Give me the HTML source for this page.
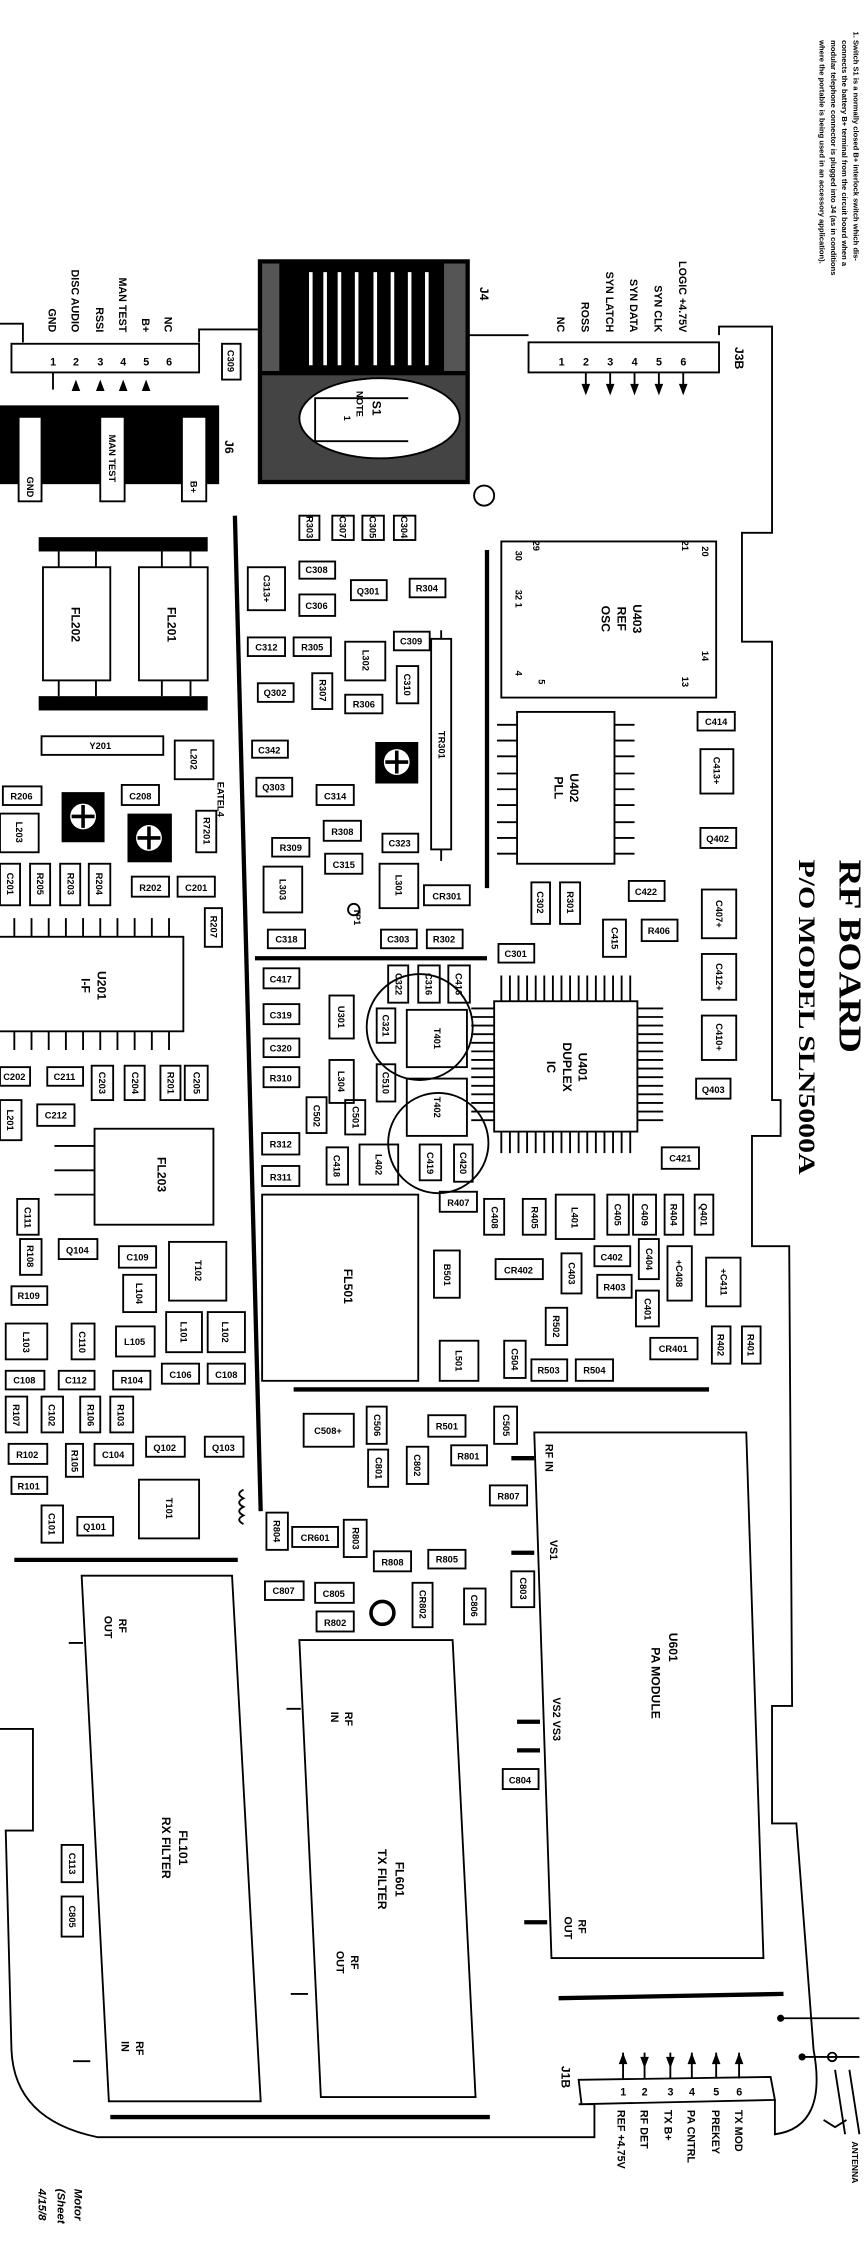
<!DOCTYPE html>
<html><head><meta charset="utf-8"><style>
html,body{margin:0;padding:0;background:#fff;}
svg{display:block;}
.b{fill:#fff;stroke:#000;stroke-width:1.3}
.n{fill:none;stroke:#000;stroke-width:1.3}
.k{fill:none;stroke:#000;stroke-width:3}
.f{fill:#000}
text{font-family:"Liberation Sans",sans-serif;font-weight:bold;fill:#000}
.t{font-size:6.5px;text-anchor:middle}
.l{font-size:7.5px}
.m{font-size:8.5px;text-anchor:middle}
</style></head><body>
<svg width="868" height="2246" viewBox="0 0 606 1568" preserveAspectRatio="none" xmlns="http://www.w3.org/2000/svg">
<rect width="606" height="1568" fill="#fff"/>
<path class="n" d="M0 226 H16 V239 M139 239 V230 H180 M295 234 H369 M502 234 V228 H539 V372 H518 V448 H539 V768 L545 768 V793 H525 V870 H551 L553 1191 H539 V1273 H556 L568 1431 Q578 1485 541 1490 V1466 M404 1469 H415 V1492 H68 Q10 1480 8 1431 L4 1278 H23 V1207 H0"/>
<g font-size="5.3">
<text transform="translate(596,22) rotate(90)">1.   Switch S1 is a normally closed B+ interlock switch which dis-</text>
<text transform="translate(588,28) rotate(90)">connects the battery B+ terminal from the circuit board when a</text>
<text transform="translate(580,28) rotate(90)">modular telephone connector is plugged into J4 (as in conditions</text>
<text transform="translate(572,28) rotate(90)">where the portable is being used in an accessory application).</text>
</g>
<text transform="translate(586,600) rotate(90)" font-size="22" style="font-family:'Liberation Serif',serif" textLength="135" lengthAdjust="spacingAndGlyphs">RF BOARD</text>
<text transform="translate(558,600) rotate(90)" font-size="16" style="font-family:'Liberation Serif',serif;font-weight:bold" textLength="220" lengthAdjust="spacingAndGlyphs">P/O MODEL SLN5000A</text>

<rect class="b" x="8" y="240" width="131" height="20"/>
<g class="l"><text x="35" y="255">1</text><text x="51" y="255">2</text><text x="68" y="255">3</text><text x="84" y="255">4</text><text x="100" y="255">5</text><text x="116" y="255">6</text></g>
<path class="n" d="M37 260V272"/>
<g class="f"><path d="M50 273 L56 273 L53 265Z"/><path d="M67 273 L73 273 L70 265Z"/><path d="M83 273 L89 273 L86 265Z"/><path d="M99 273 L105 273 L102 265Z"/></g>
<g class="l" text-anchor="end">
<text transform="translate(34,232) rotate(90)">GND</text>
<text transform="translate(50,232) rotate(90)">DISC AUDIO</text>
<text transform="translate(67,232) rotate(90)">RSSI</text>
<text transform="translate(83,232) rotate(90)">MAN TEST</text>
<text transform="translate(99,232) rotate(90)">B+</text>
<text transform="translate(115,232) rotate(90)">NC</text>
</g>
<rect class="b" x="155" y="240" width="13" height="25"/><text class="t" transform="translate(159,252) rotate(90)">C309</text>
<rect class="f" x="0" y="283" width="153" height="55"/>
<rect class="b" x="13" y="291" width="16" height="59"/><text class="t" transform="translate(19,340) rotate(90)">GND</text>
<rect class="b" x="70" y="291" width="17" height="59"/><text class="t" transform="translate(76,320) rotate(90)">MAN TEST</text>
<rect class="b" x="127" y="291" width="17" height="59"/><text class="t" transform="translate(133,340) rotate(90)">B+</text>
<text class="m" transform="translate(157,312) rotate(90)">J6</text>
<rect class="f" x="180" y="181" width="148" height="157"/>
<rect x="183" y="262" width="142" height="73" fill="#444"/>
<g stroke="#fff" stroke-width="2.5"><path d="M217 190V255M227 190V255M237 190V255M249 190V255M262 190V255M274 190V255M286 190V255M298 190V255"/></g>
<rect x="183" y="184" width="12" height="75" fill="#555"/><rect x="310" y="184" width="15" height="75" fill="#555"/>
<ellipse cx="265" cy="292" rx="56" ry="28" fill="#fff" stroke="#000" stroke-width="1.3"/>
<path class="n" d="M285 278H220V308H285"/>
<text class="m" transform="translate(260,285) rotate(90)">S1</text>
<text class="t" transform="translate(249,282) rotate(90)">NOTE</text><text class="t" transform="translate(240,292) rotate(90)">1</text>
<text class="m" transform="translate(335,205) rotate(90)">J4</text>
<circle cx="338" cy="346" r="7" class="n"/>
<rect class="b" x="369" y="239" width="133" height="21"/>
<g class="l"><text x="390" y="255">1</text><text x="407" y="255">2</text><text x="424" y="255">3</text><text x="441" y="255">4</text><text x="458" y="255">5</text><text x="475" y="255">6</text></g>
<g class="n"><path d="M409 260V274M426 260V274M443 260V274M460 260V274M477 260V274"/></g>
<g class="f"><path d="M406 268L412 268L409 276Z"/><path d="M423 268L429 268L426 276Z"/><path d="M440 268L446 268L443 276Z"/><path d="M457 268L463 268L460 276Z"/><path d="M474 268L480 268L477 276Z"/></g>
<g class="l" text-anchor="end">
<text transform="translate(389,232) rotate(90)">NC</text>
<text transform="translate(406,232) rotate(90)">ROSS</text>
<text transform="translate(423,232) rotate(90)">SYN LATCH</text>
<text transform="translate(440,232) rotate(90)">SYN DATA</text>
<text transform="translate(457,232) rotate(90)">SYN CLK</text>
<text transform="translate(474,232) rotate(90)">LOGIC +4.75V</text>
</g>
<text class="m" transform="translate(513,250) rotate(90)">J3B</text>

<path class="k" d="M164 360 L182 1055"/>
<path class="k" d="M340 384V620"/>
<path class="k" d="M178 669H340"/>
<path class="k" d="M205 970H495"/>
<path class="k" d="M10 1089H166"/>
<path class="k" d="M77 1478H342"/>
<path class="k" d="M390 1395L547 1392"/>
<path class="n" d="M170 1040q-6 3 0 6q-6 3 0 6q-6 3 0 6q-6 3 0 6"/>

<rect class="b" x="350" y="378" width="150" height="109"/>
<text class="m" transform="translate(442,432) rotate(90)">U403</text>
<text class="m" transform="translate(431,432) rotate(90)">REF</text>
<text class="m" transform="translate(420,432) rotate(90)">OSC</text>
<g class="t" text-anchor="start"><text transform="translate(372,381) rotate(90)">29</text><text transform="translate(360,388) rotate(90)">30</text><text transform="translate(360,418) rotate(90)">32 1</text><text transform="translate(360,470) rotate(90)">4</text><text transform="translate(376,476) rotate(90)">5</text><text transform="translate(476,381) rotate(90)">21</text><text transform="translate(490,385) rotate(90)">20</text><text transform="translate(490,458) rotate(90)">14</text><text transform="translate(476,476) rotate(90)">13</text></g>
<rect class="b" x="361" y="497" width="68" height="106"/>
<path class="n" d="M347 506h14M347 517h14M347 528h14M347 540h14M347 551h14M347 562h14M347 574h14M347 585h14M347 596h14M429 506h14M429 517h14M429 528h14M429 540h14M429 551h14M429 562h14M429 574h14M429 585h14M429 596h14"/>
<text class="m" transform="translate(398,550) rotate(90)">U402</text><text class="m" transform="translate(387,550) rotate(90)">PLL</text>
<rect class="b" x="345" y="699" width="100" height="91"/>
<path class="n" d="M350 681v18M356 681v18M362 681v18M368 681v18M374 681v18M380 681v18M386 681v18M392 681v18M398 681v18M404 681v18M410 681v18M416 681v18M422 681v18M428 681v18M434 681v18M440 681v18
M350 790v15M356 790v15M362 790v15M368 790v15M374 790v15M380 790v15M386 790v15M392 790v15M398 790v15M404 790v15M410 790v15M416 790v15M422 790v15M428 790v15M434 790v15M440 790v15
M445 704h18M445 710h18M445 716h18M445 722h18M445 728h18M445 734h18M445 740h18M445 746h18M445 752h18M445 758h18M445 764h18M445 770h18M445 776h18M445 782h18
M329 704h16M329 710h16M329 716h16M329 722h16M329 728h16M329 734h16M329 740h16M329 746h16M329 752h16M329 758h16M329 764h16M329 770h16M329 776h16M329 782h16"/>
<text class="m" transform="translate(404,745) rotate(90)">U401</text><text class="m" transform="translate(393,745) rotate(90)">DUPLEX</text><text class="m" transform="translate(382,745) rotate(90)">IC</text>
<rect class="b" x="284" y="705" width="42" height="40"/><text class="t" transform="translate(303,725) rotate(90)">T401</text>
<rect class="b" x="284" y="753" width="42" height="40"/><text class="t" transform="translate(303,773) rotate(90)">T402</text>
<circle cx="293" cy="717" r="37" class="n" stroke-width="0.8"/>
<circle cx="306" cy="798" r="35" class="n" stroke-width="0.8"/>

<rect class="f" x="27" y="375" width="118" height="10"/><rect class="f" x="27" y="486" width="118" height="10"/>
<rect class="b" x="30" y="396" width="47" height="79"/><rect class="b" x="97" y="396" width="48" height="79"/>
<path class="n" d="M41 385v11M67 385v11M41 475v11M67 475v11M113 385v11M133 385v11M113 475v11M133 475v11"/>
<text class="m" transform="translate(50,436) rotate(90)">FL202</text><text class="m" transform="translate(117,436) rotate(90)">FL201</text>
<rect class="b" x="29" y="514" width="85" height="13"/><text class="t" x="70" y="523">Y201</text>
<rect class="b" x="-2" y="654" width="130" height="66"/>
<path class="n" d="M10 641v13M22 641v13M34 641v13M46 641v13M58 641v13M70 641v13M82 641v13M94 641v13M106 641v13M118 641v13M10 720v13M22 720v13M34 720v13M46 720v13M58 720v13M70 720v13M82 720v13M94 720v13M106 720v13M118 720v13"/>
<text class="m" transform="translate(68,688) rotate(90)">U201</text><text class="m" transform="translate(57,688) rotate(90)">I-F</text>
<rect class="b" x="66" y="788" width="83" height="67"/><path class="n" d="M38 800h28M38 817h28M38 834h28"/>
<text class="m" transform="translate(110,820) rotate(90)">FL203</text>
<rect class="b" x="183" y="834" width="109" height="130"/><text class="m" transform="translate(240,898) rotate(90)">FL501</text>
<path class="b" d="M373 1000 H521 L533 1367 H385 Z"/>
<path class="k" d="M357 1018h16M357 1084h16M361 1202h16M361 1222h16M366 1342h16"/>
<text class="m" transform="translate(467,1150) rotate(90)">U601</text><text class="m" transform="translate(455,1175) rotate(90)">PA MODULE</text>
<g class="l"><text transform="translate(381,1008) rotate(90)">RF IN</text><text transform="translate(384,1075) rotate(90)">VS1</text><text transform="translate(386,1185) rotate(90)">VS2 VS3</text><text transform="translate(404,1340) rotate(90)">RF</text><text transform="translate(394,1338) rotate(90)">OUT</text></g>
<path class="b" d="M57 1100 H162 L182 1467 H76 Z"/>
<path class="n" d="M48 1147h10M51 1439h12"/>
<g class="l"><text transform="translate(83,1130) rotate(90)">RF</text><text transform="translate(73,1128) rotate(90)">OUT</text><text transform="translate(95,1425) rotate(90)">RF</text><text transform="translate(85,1425) rotate(90)">IN</text></g>
<text class="m" transform="translate(125,1290) rotate(90)">FL101</text><text class="m" transform="translate(113,1290) rotate(90)">RX FILTER</text>
<path class="b" d="M209 1145 H316 L332 1464 H224 Z"/>
<path class="n" d="M200 1193h10M203 1392h12"/>
<g class="l"><text transform="translate(241,1195) rotate(90)">RF</text><text transform="translate(231,1195) rotate(90)">IN</text><text transform="translate(245,1365) rotate(90)">RF</text><text transform="translate(235,1362) rotate(90)">OUT</text></g>
<text class="m" transform="translate(276,1312) rotate(90)">FL601</text><text class="m" transform="translate(264,1312) rotate(90)">TX FILTER</text>

<path class="b" d="M404 1452 L538 1450 L541 1466 L406 1469 Z"/>
<g class="l"><text x="433" y="1463">1</text><text x="448" y="1463">2</text><text x="466" y="1463">3</text><text x="481" y="1463">4</text><text x="498" y="1463">5</text><text x="514" y="1463">6</text></g>
<path class="n" d="M435 1433v18M450 1433v18M468 1433v18M483 1433v18M500 1433v18M516 1433v18"/>
<g class="f"><path d="M432 1441L438 1441L435 1433Z"/><path d="M447 1436L453 1436L450 1444Z"/><path d="M465 1436L471 1436L468 1444Z"/><path d="M480 1441L486 1441L483 1433Z"/><path d="M497 1441L503 1441L500 1433Z"/><path d="M513 1441L519 1441L516 1433Z"/></g>
<g class="l"><text transform="translate(431,1473) rotate(90)">REF +4.75V</text><text transform="translate(447,1473) rotate(90)">RF DET</text><text transform="translate(464,1473) rotate(90)">TX B+</text><text transform="translate(480,1473) rotate(90)">PA CNTRL</text><text transform="translate(497,1473) rotate(90)">PREKEY</text><text transform="translate(513,1473) rotate(90)">TX MOD</text></g>
<text class="m" transform="translate(392,1450) rotate(90)">J1B</text>
<circle cx="545" cy="1409" r="2.5" class="f"/><circle cx="560" cy="1436" r="2.5" class="f"/><circle cx="581" cy="1436" r="3" class="n"/>
<path class="n" d="M545 1409H600M560 1436H600M583 1445L590 1490M593 1445L600 1490M575 1480l8 5l8-5"/>
<text transform="translate(595,1495) rotate(90)" font-size="6" font-weight="normal">ANTENNA</text>
<g font-size="8" font-style="italic" font-weight="normal"><text transform="translate(52,1528) rotate(90)">Motor</text><text transform="translate(40,1528) rotate(90)">(Sheet</text><text transform="translate(27,1528) rotate(90)">4/15/8</text></g>

<g class="n" stroke-width="1.3">
<rect x="209" y="360" width="14" height="17"/><rect x="232" y="360" width="15" height="17"/><rect x="253" y="360" width="15" height="17"/><rect x="275" y="360" width="15" height="17"/>
<rect x="173" y="396" width="26" height="30"/><rect x="209" y="392" width="25" height="12"/><rect x="209" y="415" width="25" height="15"/><rect x="245" y="405" width="25" height="14"/><rect x="286" y="404" width="25" height="13"/>
<rect x="173" y="445" width="26" height="13"/><rect x="205" y="445" width="26" height="13"/><rect x="241" y="448" width="28" height="27"/><rect x="275" y="441" width="25" height="13"/><rect x="277" y="465" width="15" height="26"/>
<rect x="301" y="446" width="14" height="147"/><path d="M308 440v6M308 593v8"/>
<rect x="180" y="477" width="25" height="13"/><rect x="218" y="470" width="14" height="25"/><rect x="241" y="485" width="26" height="13"/><rect x="176" y="517" width="25" height="12"/>
<rect x="179" y="543" width="25" height="13"/><rect x="221" y="548" width="26" height="14"/><rect x="226" y="573" width="26" height="14"/><rect x="190" y="585" width="26" height="13"/><rect x="267" y="582" width="25" height="13"/><rect x="227" y="596" width="26" height="14"/>
<rect x="184" y="605" width="27" height="32"/><rect x="265" y="603" width="27" height="31"/><rect x="296" y="618" width="32" height="14"/><circle cx="247" cy="635" r="4"/>
<rect x="187" y="649" width="26" height="13"/><rect x="266" y="649" width="25" height="13"/><rect x="298" y="649" width="25" height="13"/><rect x="348" y="659" width="25" height="13"/>
<rect x="371" y="616" width="13" height="29"/><rect x="391" y="616" width="14" height="29"/><rect x="439" y="615" width="25" height="14"/><rect x="448" y="642" width="25" height="15"/><rect x="421" y="642" width="16" height="26"/>
<rect x="487" y="497" width="26" height="13"/><rect x="489" y="523" width="23" height="31"/><rect x="489" y="578" width="25" height="14"/><rect x="490" y="621" width="24" height="34"/><rect x="490" y="666" width="24" height="32"/><rect x="490" y="709" width="24" height="31"/><rect x="486" y="753" width="24" height="14"/>
<rect x="2" y="549" width="27" height="13"/><rect x="0" y="568" width="27" height="27"/><rect x="85" y="548" width="26" height="14"/><rect x="137" y="566" width="14" height="29"/><rect x="122" y="517" width="27" height="27"/>
<rect x="92" y="612" width="26" height="14"/><rect x="124" y="612" width="26" height="14"/><rect x="143" y="634" width="12" height="27"/><rect x="0" y="603" width="14" height="29"/><rect x="21" y="603" width="14" height="29"/><rect x="42" y="603" width="14" height="29"/><rect x="62" y="603" width="15" height="29"/>
<rect x="184" y="676" width="25" height="14"/><rect x="184" y="701" width="25" height="14"/><rect x="184" y="725" width="25" height="13"/><rect x="184" y="745" width="25" height="14"/><rect x="230" y="695" width="17" height="30"/><rect x="230" y="740" width="17" height="30"/>
<rect x="0" y="745" width="21" height="13"/><rect x="33" y="745" width="25" height="13"/><rect x="64" y="744" width="15" height="24"/><rect x="87" y="744" width="14" height="24"/><rect x="112" y="744" width="14" height="24"/><rect x="129" y="744" width="16" height="24"/>
<rect x="271" y="674" width="14" height="26"/><rect x="292" y="674" width="15" height="26"/><rect x="313" y="674" width="15" height="26"/><rect x="263" y="704" width="13" height="24"/><rect x="263" y="743" width="13" height="26"/>
<rect x="0" y="768" width="15" height="28"/><rect x="26" y="771" width="26" height="15"/><rect x="214" y="766" width="14" height="25"/><rect x="241" y="768" width="14" height="24"/><rect x="183" y="791" width="26" height="15"/><rect x="183" y="814" width="26" height="14"/>
<rect x="228" y="801" width="15" height="26"/><rect x="251" y="799" width="27" height="28"/><rect x="293" y="799" width="15" height="25"/><rect x="317" y="799" width="13" height="26"/><rect x="307" y="832" width="26" height="14"/><rect x="462" y="801" width="26" height="15"/>
<rect x="12" y="837" width="15" height="25"/><rect x="14" y="865" width="15" height="25"/><rect x="41" y="865" width="27" height="14"/><rect x="83" y="870" width="26" height="15"/><rect x="118" y="867" width="40" height="41"/><rect x="86" y="890" width="23" height="26"/><rect x="8" y="898" width="25" height="13"/>
<rect x="4" y="924" width="29" height="25"/><rect x="50" y="924" width="16" height="25"/><rect x="81" y="926" width="27" height="21"/><rect x="116" y="916" width="25" height="28"/><rect x="145" y="916" width="26" height="28"/>
<rect x="4" y="957" width="27" height="13"/><rect x="41" y="957" width="25" height="13"/><rect x="79" y="957" width="26" height="13"/><rect x="113" y="952" width="26" height="14"/><rect x="145" y="952" width="26" height="14"/>
<rect x="4" y="975" width="15" height="25"/><rect x="29" y="975" width="15" height="25"/><rect x="56" y="975" width="14" height="25"/><rect x="77" y="975" width="16" height="25"/>
<rect x="6" y="1008" width="27" height="14"/><rect x="46" y="1008" width="12" height="23"/><rect x="66" y="1008" width="27" height="15"/><rect x="102" y="1003" width="27" height="14"/><rect x="143" y="1003" width="27" height="14"/>
<rect x="8" y="1031" width="25" height="12"/><rect x="29" y="1051" width="15" height="26"/><rect x="54" y="1059" width="25" height="13"/><rect x="97" y="1033" width="42" height="41"/>
<rect x="346" y="879" width="33" height="14"/><rect x="388" y="834" width="27" height="31"/><rect x="424" y="834" width="15" height="28"/><rect x="442" y="834" width="16" height="28"/><rect x="464" y="834" width="13" height="28"/><rect x="485" y="834" width="13" height="28"/><rect x="365" y="837" width="16" height="25"/><rect x="338" y="837" width="14" height="25"/>
<rect x="415" y="870" width="25" height="14"/><rect x="446" y="865" width="14" height="28"/><rect x="392" y="875" width="14" height="28"/><rect x="417" y="890" width="24" height="16"/><rect x="466" y="870" width="17" height="38"/><rect x="493" y="878" width="24" height="34"/><rect x="444" y="901" width="16" height="25"/>
<rect x="381" y="913" width="15" height="26"/><rect x="454" y="934" width="33" height="15"/><rect x="497" y="926" width="13" height="26"/><rect x="518" y="926" width="13" height="26"/><rect x="303" y="873" width="18" height="33"/><rect x="307" y="936" width="27" height="28"/><rect x="352" y="936" width="15" height="26"/><rect x="371" y="949" width="25" height="15"/><rect x="402" y="949" width="26" height="15"/>
<rect x="212" y="987" width="35" height="23"/><rect x="256" y="982" width="14" height="26"/><rect x="257" y="1012" width="14" height="26"/><rect x="284" y="1010" width="15" height="26"/><rect x="299" y="988" width="26" height="15"/><rect x="315" y="1009" width="25" height="14"/><rect x="345" y="982" width="16" height="26"/><rect x="342" y="1037" width="26" height="14"/>
<rect x="186" y="1056" width="15" height="26"/><rect x="204" y="1066" width="32" height="14"/><rect x="240" y="1061" width="16" height="26"/><rect x="261" y="1083" width="26" height="14"/><rect x="299" y="1082" width="26" height="13"/>
<rect x="185" y="1104" width="27" height="13"/><rect x="220" y="1105" width="27" height="14"/><rect x="221" y="1125" width="26" height="14"/><rect x="288" y="1105" width="14" height="31"/><circle cx="267" cy="1126" r="8" stroke-width="2.5"/><rect x="324" y="1109" width="15" height="25"/><rect x="357" y="1097" width="16" height="25"/><rect x="351" y="1235" width="25" height="14"/>
<rect x="43" y="1288" width="15" height="26"/><rect x="43" y="1324" width="15" height="28"/>
</g>
<rect class="f" x="262" y="518" width="30" height="29"/><circle cx="277" cy="532" r="9" fill="#fff"/><path d="M277 524v16M269 532h16" stroke="#000" stroke-width="2.5"/>
<rect class="f" x="43" y="553" width="30" height="35"/><circle cx="58" cy="570" r="9" fill="#fff"/><path d="M58 562v16M50 570h16" stroke="#000" stroke-width="2.5"/>
<rect class="f" x="89" y="568" width="31" height="34"/><circle cx="104" cy="585" r="9" fill="#fff"/><path d="M104 577v16M96 585h16" stroke="#000" stroke-width="2.5"/>

<g class="t">
<text x="221" y="400">C308</text><text x="221" y="425">C306</text><text x="257" y="415">Q301</text><text x="298" y="413">R304</text>
<text x="186" y="454">C312</text><text x="218" y="454">R305</text><text x="287" y="450">C309</text>
<text x="192" y="486">Q302</text><text x="254" y="494">R306</text><text x="188" y="526">C342</text>
<text x="191" y="552">Q303</text><text x="234" y="558">C314</text><text x="239" y="583">R308</text><text x="203" y="594">R309</text><text x="279" y="591">C323</text><text x="240" y="606">C315</text>
<text x="312" y="628">CR301</text><text x="200" y="658">C318</text><text x="278" y="658">C303</text><text x="310" y="658">R302</text><text x="360" y="668">C301</text>
<text x="451" y="625">C422</text><text x="460" y="652">R406</text><text x="500" y="506">C414</text><text x="501" y="588">Q402</text><text x="498" y="763">Q403</text>
<text x="15" y="558">R206</text><text x="98" y="558">C208</text><text x="105" y="622">R202</text><text x="137" y="622">C201</text>
<text x="196" y="686">C417</text><text x="196" y="711">C319</text><text x="196" y="734">C320</text><text x="196" y="755">R310</text>
<text x="10" y="754">C202</text><text x="45" y="754">C211</text><text x="39" y="781">C212</text><text x="196" y="801">R312</text><text x="196" y="824">R311</text><text x="320" y="842">R407</text><text x="475" y="811">C421</text>
<text x="54" y="875">Q104</text><text x="96" y="880">C109</text><text x="20" y="907">R109</text><text x="94" y="939">L105</text>
<text x="17" y="966">C108</text><text x="53" y="966">C112</text><text x="92" y="966">R104</text><text x="126" y="962">C106</text><text x="158" y="962">C108</text>
<text x="19" y="1018">R102</text><text x="79" y="1018">C104</text><text x="115" y="1013">Q102</text><text x="156" y="1013">Q103</text><text x="20" y="1040">R101</text><text x="66" y="1068">Q101</text>
<text x="362" y="889">CR402</text><text x="427" y="880">C402</text><text x="429" y="901">R403</text><text x="470" y="944">CR401</text><text x="383" y="959">R503</text><text x="415" y="959">R504</text>
<text x="229" y="1001">C508+</text><text x="312" y="998">R501</text><text x="327" y="1019">R801</text><text x="355" y="1047">R807</text>
<text x="220" y="1076">CR601</text><text x="274" y="1093">R808</text><text x="312" y="1091">R805</text><text x="198" y="1113">C807</text><text x="233" y="1115">C805</text><text x="234" y="1135">R802</text><text x="363" y="1245">C804</text>
</g>
<g class="t">
<text transform="translate(214,368) rotate(90)">R303</text><text transform="translate(237,368) rotate(90)">C307</text><text transform="translate(258,368) rotate(90)">C305</text><text transform="translate(280,368) rotate(90)">C304</text>
<text transform="translate(184,411) rotate(90)">C313+</text><text transform="translate(253,461) rotate(90)">L302</text><text transform="translate(282,478) rotate(90)">C310</text><text transform="translate(306,520) rotate(90)">TR301</text><text transform="translate(223,482) rotate(90)">R307</text>
<text transform="translate(195,621) rotate(90)">L303</text><text transform="translate(276,618) rotate(90)">L301</text><text transform="translate(375,630) rotate(90)">C302</text><text transform="translate(396,630) rotate(90)">R301</text><text transform="translate(427,655) rotate(90)">C415</text>
<text transform="translate(498,538) rotate(90)">C413+</text><text transform="translate(500,638) rotate(90)">C407+</text><text transform="translate(500,682) rotate(90)">C412+</text><text transform="translate(500,724) rotate(90)">C410+</text>
<text transform="translate(11,581) rotate(90)">L203</text><text transform="translate(142,580) rotate(90)">R7201</text><text transform="translate(133,530) rotate(90)">L202</text><text transform="translate(147,647) rotate(90)">R207</text>
<text transform="translate(5,617) rotate(90)">C201</text><text transform="translate(26,617) rotate(90)">R205</text><text transform="translate(47,617) rotate(90)">R203</text><text transform="translate(67,617) rotate(90)">R204</text>
<text transform="translate(236,710) rotate(90)">U301</text><text transform="translate(236,755) rotate(90)">L304</text>
<text transform="translate(69,756) rotate(90)">C203</text><text transform="translate(92,756) rotate(90)">C204</text><text transform="translate(117,756) rotate(90)">R201</text><text transform="translate(135,756) rotate(90)">C205</text>
<text transform="translate(276,687) rotate(90)">C322</text><text transform="translate(297,687) rotate(90)">C316</text><text transform="translate(318,687) rotate(90)">C416</text><text transform="translate(267,716) rotate(90)">C321</text><text transform="translate(267,756) rotate(90)">C510</text>
<text transform="translate(5,782) rotate(90)">L201</text><text transform="translate(219,779) rotate(90)">C502</text><text transform="translate(246,780) rotate(90)">C501</text><text transform="translate(233,814) rotate(90)">C418</text><text transform="translate(262,813) rotate(90)">L402</text><text transform="translate(298,812) rotate(90)">C419</text><text transform="translate(321,812) rotate(90)">C420</text>
<text transform="translate(17,850) rotate(90)">C111</text><text transform="translate(19,877) rotate(90)">R108</text><text transform="translate(136,887) rotate(90)">T102</text><text transform="translate(95,903) rotate(90)">L104</text>
<text transform="translate(16,937) rotate(90)">L103</text><text transform="translate(55,937) rotate(90)">C110</text><text transform="translate(126,930) rotate(90)">L101</text><text transform="translate(155,930) rotate(90)">L102</text>
<text transform="translate(9,988) rotate(90)">R107</text><text transform="translate(34,988) rotate(90)">C102</text><text transform="translate(61,988) rotate(90)">R106</text><text transform="translate(82,988) rotate(90)">R103</text><text transform="translate(50,1020) rotate(90)">R105</text>
<text transform="translate(34,1064) rotate(90)">C101</text><text transform="translate(116,1053) rotate(90)">T101</text>
<text transform="translate(399,850) rotate(90)">L401</text><text transform="translate(429,848) rotate(90)">C405</text><text transform="translate(448,848) rotate(90)">C409</text><text transform="translate(468,848) rotate(90)">R404</text><text transform="translate(489,848) rotate(90)">Q401</text><text transform="translate(371,850) rotate(90)">R405</text><text transform="translate(343,850) rotate(90)">C408</text>
<text transform="translate(451,879) rotate(90)">C404</text><text transform="translate(397,889) rotate(90)">C403</text><text transform="translate(472,889) rotate(90)">+C408</text><text transform="translate(503,895) rotate(90)">+C411</text><text transform="translate(450,914) rotate(90)">C401</text>
<text transform="translate(386,926) rotate(90)">R502</text><text transform="translate(501,939) rotate(90)">R402</text><text transform="translate(522,939) rotate(90)">R401</text><text transform="translate(310,890) rotate(90)">B501</text><text transform="translate(318,950) rotate(90)">L501</text><text transform="translate(357,949) rotate(90)">C504</text>
<text transform="translate(261,995) rotate(90)">C506</text><text transform="translate(262,1025) rotate(90)">C801</text><text transform="translate(289,1023) rotate(90)">C802</text><text transform="translate(351,995) rotate(90)">C505</text>
<text transform="translate(191,1069) rotate(90)">R804</text><text transform="translate(246,1074) rotate(90)">R803</text><text transform="translate(293,1120) rotate(90)">CR802</text><text transform="translate(329,1121) rotate(90)">C806</text><text transform="translate(363,1109) rotate(90)">C803</text>
<text transform="translate(48,1301) rotate(90)">C113</text><text transform="translate(48,1338) rotate(90)">C805</text>
<text transform="translate(152,558) rotate(90)">EATEL4</text>
<text transform="translate(247,640) rotate(90)">TP1</text>
</g>
</svg>
</body></html>
